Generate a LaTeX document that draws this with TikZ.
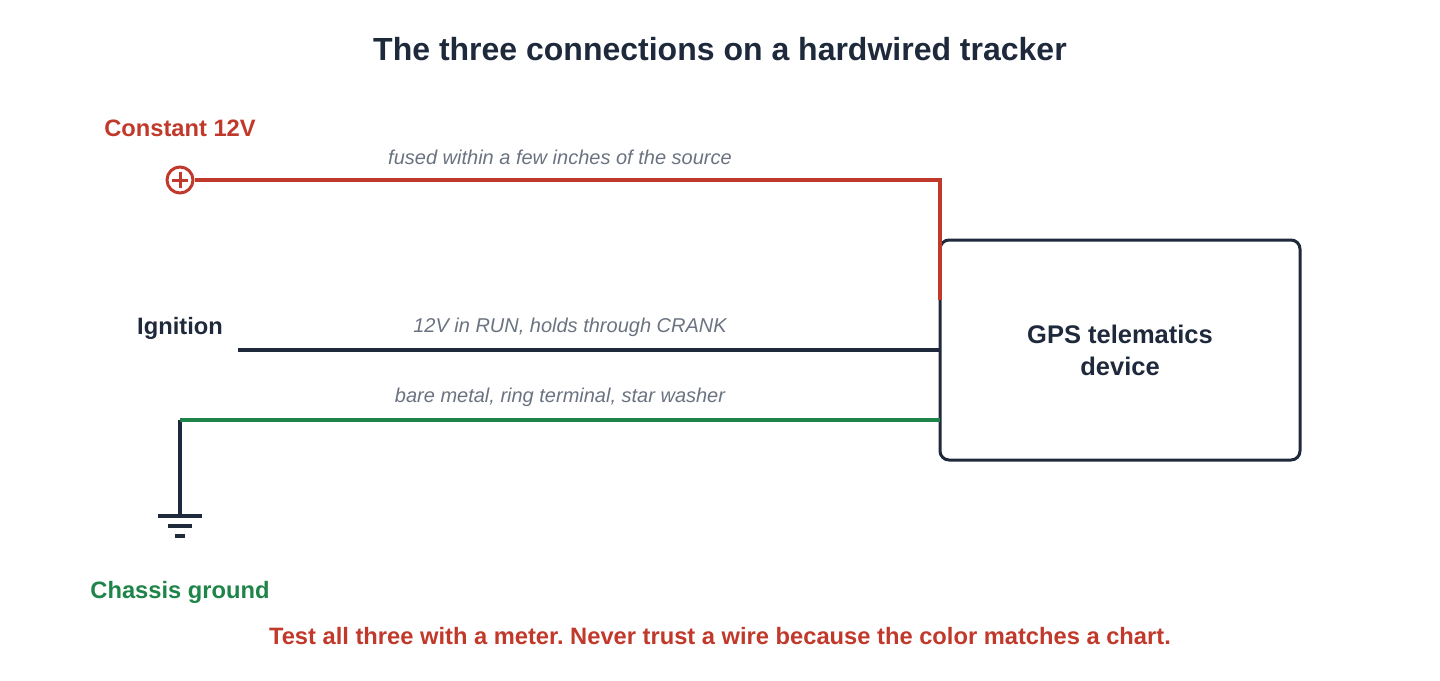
\documentclass[tikz,border=0pt]{standalone}
\usepackage{fontspec}
\setmainfont{Liberation Sans}
\definecolor{wred}{HTML}{C0392B}
\definecolor{navy}{HTML}{1E293B}
\definecolor{wgreen}{HTML}{1E8449}
\definecolor{lgray}{HTML}{6B7280}
\begin{document}
\frenchspacing
\begin{tikzpicture}[x=1pt,y=-1pt,
  lbl/.style={font=\fontsize{23.7}{28}\selectfont\bfseries},
  note/.style={font=\fontsize{20}{24}\selectfont\itshape,text=lgray},
  wire/.style={line width=4pt}]
\useasboundingbox (0,0) rectangle (1440,680);
\node[text=navy,font=\fontsize{32}{38}\selectfont\bfseries] (title) at (720,49) {The three connections on a hardwired tracker};
\node[lbl,text=wred] (c12) at (180,128) {Constant 12V};
\node[circle,draw=wred,line width=3pt,minimum size=26pt,inner sep=0] (plus) at (180,180) {};
\draw[wred,line width=3pt] (172,180)--(188,180) (180,172)--(180,188);
\node[draw=navy,line width=3pt,rounded corners=9pt,minimum width=360pt,minimum height=220pt] (dev) at (1120,350) {};
\node[text=navy,align=center,font=\fontsize{25.5}{32}\selectfont\bfseries] (devt) at (1120,350) {GPS telematics\\device};
\coordinate (rc) at (940,180);
\coordinate (rd) at (940,300);
\draw[wire,wred] (plus.east)--(rc)--(rd);
\node[note] (n1) at (560,157) {fused within a few inches of the source};
\node[lbl,text=navy] (ign) at (180,328) {Ignition};
\coordinate (is) at (238,350);
\coordinate (ie) at (940,350);
\draw[wire,navy] (is)--(ie);
\node[note] (n2) at (570,327) {12V in RUN, holds through CRANK};
\coordinate (gs) at (180,420);
\coordinate (ge) at (940,420);
\coordinate (gb) at (180,516);
\draw[wire,navy] (gs)--(gb);
\draw[wire,wgreen] (gs)--(ge);
\draw[navy,line width=3.5pt] (158,516)--(202,516) (168,526)--(192,526) (175,536)--(185,536);
\node[note] (n3) at (560,397) {bare metal, ring terminal, star washer};
\node[lbl,text=wgreen] (cg) at (180,592) {Chassis ground};
\node[lbl,text=wred] (foot) at (720,636) {Test all three with a meter. Never trust a wire because the color matches a chart.};
\end{tikzpicture}
\end{document}
